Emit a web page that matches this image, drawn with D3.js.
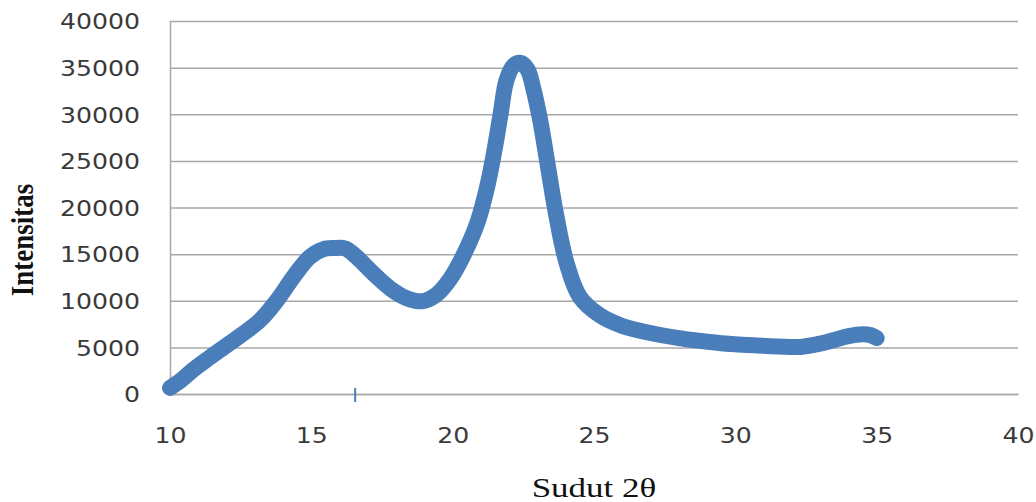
<!DOCTYPE html>
<html lang="en">
<head>
    <meta charset="utf-8">
    <title>Intensitas vs Sudut 2θ</title>
    <script type="text/javascript" src="https://d3js.org/d3.v7.min.js"></script>
    <style type="text/css">
        body { margin: 0; background: #fff; }
        .tick text { font-family: "DejaVu Sans", sans-serif; font-size: 21.5px; fill: #3a3a3a; }
        .ttl { font-family: "Liberation Serif", "Times New Roman", serif; fill: #111; }
    </style>
</head>
<body>
<svg width="1036" height="502"></svg>
<script type="text/javascript">

    // data (sudut 2theta, intensitas)
    const sudut = [10.0, 10.4, 10.8, 11.4, 12.0, 12.6, 13.2, 13.8, 14.4, 14.95,
        15.4, 15.8, 16.2, 16.6, 17.2, 17.8, 18.4, 18.9, 19.4, 19.9,
        20.4, 20.9, 21.25, 21.5, 21.7, 21.9, 22.15, 22.4, 22.65, 22.85,
        23.1, 23.35, 23.65, 24.03, 24.5, 25.2, 26.0, 27.0, 28.0, 28.75,
        29.5, 30.5, 31.5, 32.3, 33.0, 33.5, 34.0, 34.5, 34.8, 35.0];
    const intensitas = [650, 1500, 2550, 3900, 5200, 6500, 7950, 10100, 12700, 14700,
        15500, 15650, 15600, 14700, 12900, 11300, 10250, 9950, 10600, 12300,
        15000, 18600, 22600, 26500, 30100, 33600, 35200, 35500, 34800, 32800,
        29300, 24800, 19400, 14050, 10400, 8450, 7300, 6540, 6000, 5700,
        5450, 5250, 5100, 5050, 5400, 5800, 6200, 6400, 6300, 6000];

    const xTicks = [10, 15, 20, 25, 30, 35, 40];
    const yTicks = [0, 5000, 10000, 15000, 20000, 25000, 30000, 35000, 40000];
    const strayMark = 16.55;   // the little blue tick on the x axis

    const svg = d3.select("svg");
    const mLeft = 170, mRight = 1018, mTop = 21, mBottom = 394;
    const sx = 1.17;  // the picture's labels are a bit stretched sideways

    const x = d3.scaleLinear().domain([10, 40]).range([mLeft, mRight]);
    const y = d3.scaleLinear().domain([0, 40000]).range([mBottom, mTop]);

    // y axis + gridlines
    const gy = svg.append("g")
        .attr("transform", "translate(" + mLeft + ",0)")
        .call(d3.axisLeft(y).tickValues(yTicks).tickFormat(d3.format("d"))
            .tickSize(-(mRight - mLeft)).tickSizeOuter(0).tickPadding(0));
    gy.select(".domain").attr("stroke", "#a8a8a8").attr("stroke-width", 1.5);
    gy.selectAll(".tick line").attr("stroke", "#a8a8a8").attr("stroke-width", 1.5);
    gy.selectAll(".tick text")
        .attr("x", -30 / sx)
        .attr("dy", "0.36em")
        .attr("transform", "scale(" + sx + ",1)");

    // x axis
    const gx = svg.append("g")
        .attr("transform", "translate(0," + mBottom + ")")
        .call(d3.axisBottom(x).tickValues(xTicks).tickFormat(d3.format("d"))
            .tickSize(0).tickSizeOuter(0));
    gx.select(".domain").attr("stroke", "#a8a8a8").attr("stroke-width", 1.5);
    gx.selectAll(".tick text")
        .attr("y", 49)
        .attr("dy", null)
        .attr("transform", "scale(" + sx + ",1)");

    svg.append("line")
        .attr("x1", x(strayMark)).attr("x2", x(strayMark))
        .attr("y1", y(0) - 6).attr("y2", y(0) + 8)
        .attr("stroke", "#4a7ebb")
        .attr("stroke-width", 2);

    // the data band
    const pts = sudut.map((d, i) => [d, intensitas[i]]);
    const line = d3.line()
        .x(d => x(d[0]))
        .y(d => y(d[1]))
        .curve(d3.curveCatmullRom.alpha(0.5));

    svg.append("path")
        .datum(pts)
        .attr("d", line)
        .attr("fill", "none")
        .attr("stroke", "#4a7ebb")
        .attr("stroke-width", 16)
        .attr("stroke-linejoin", "round")
        .attr("stroke-linecap", "round");

    // titles
    svg.append("text")
        .attr("class", "ttl")
        .attr("transform", "translate(33,240) scale(1.2,1) rotate(-90)")
        .attr("text-anchor", "middle")
        .style("font-size", "27px")
        .style("font-weight", "bold")
        .text("Intensitas");

    svg.append("text")
        .attr("class", "ttl")
        .attr("transform", "translate(594,497) scale(1.25,1)")
        .attr("text-anchor", "middle")
        .style("font-size", "28px")
        .text("Sudut 2θ");

</script>
</body>
</html>
